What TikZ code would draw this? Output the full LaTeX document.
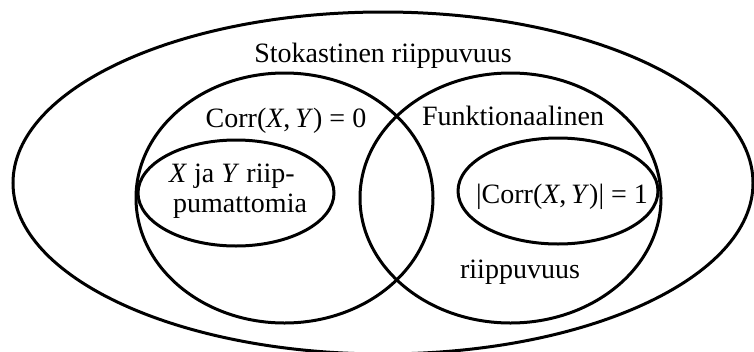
\documentclass[tikz,border=0pt]{standalone}
\usepackage{fontspec}
\setmainfont{Liberation Serif}
\usetikzlibrary{shapes.geometric}
\begin{document}
\begin{tikzpicture}[x=1pt,y=-1pt,
  set/.style={ellipse, draw, line width=3pt, inner sep=0pt, outer sep=0pt},
  lbl/.style={font=\fontsize{28}{30}\selectfont, inner sep=0pt, anchor=base}]
\useasboundingbox (0,0) rectangle (754,351);
\clip (0,0) rectangle (754,351);
% sets
\node[set, minimum width=740pt, minimum height=342pt] (outer) at (383,183) {};
\node[set, minimum width=297pt, minimum height=250pt] (corr0) at (284.5,198) {};
\node[set, minimum width=301pt, minimum height=250pt] (funk) at (510.5,198) {};
\node[set, minimum width=196pt, minimum height=106pt] (indep) at (236,193) {};
\node[set, minimum width=200pt, minimum height=106pt] (corr1) at (558,191) {};
% labels
\node[lbl] (tstok) at (383,62) {Stokastinen riippuvuus};
\node[lbl] (tcorr0) at (286,127) {Corr(\textit{X},\,\textit{Y}) = 0};
\node[lbl] (tfunk) at (513,125) {Funktionaalinen};
\node[lbl, anchor=base west] (tind1) at (169,182) {\textit{X} ja \textit{Y} riip-};
\node[lbl, anchor=base west] (tind2) at (173,212) {pumattomia};
\node[lbl] (tcorr1) at (562,203) {|Corr(\textit{X},\,\textit{Y})| = 1};
\node[lbl] (triip) at (520,278) {riippuvuus};
\end{tikzpicture}
\end{document}
